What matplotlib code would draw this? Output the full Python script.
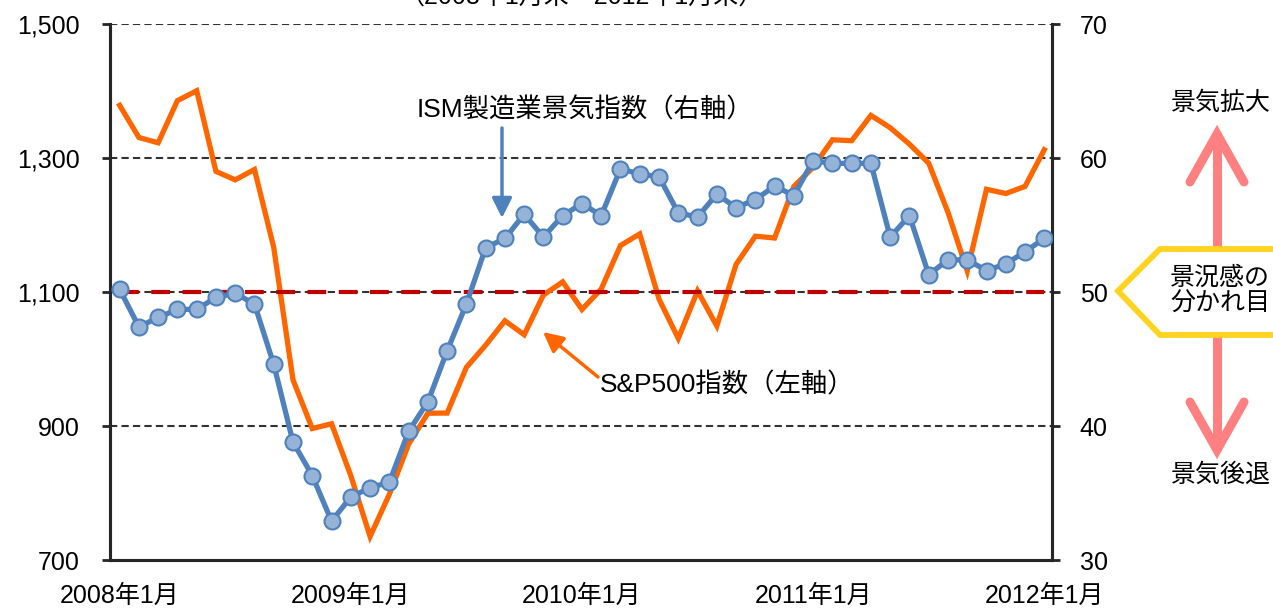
import numpy as np
import matplotlib
matplotlib.use('Agg')
import matplotlib.pyplot as plt
from matplotlib.patches import Polygon

plt.rcParams['font.family'] = ['Liberation Sans', 'Noto Sans CJK JP']
plt.rcParams['font.size'] = 18

# 2008年1月末～2012年1月末 の月末値
sp500 = [1378.6, 1330.6, 1322.7, 1385.6, 1400.4, 1280.0, 1267.4, 1282.8, 1166.4, 968.8, 896.2, 903.3,
         825.9, 735.1, 797.9, 872.8, 919.1, 919.3, 987.5, 1020.6, 1057.1, 1036.2, 1095.6, 1115.1,
         1073.9, 1104.5, 1169.4, 1186.7, 1089.4, 1030.7, 1101.6, 1049.3, 1141.2, 1183.3, 1180.6, 1257.6,
         1286.1, 1327.2, 1325.8, 1363.6, 1345.2, 1320.6, 1292.3, 1218.9, 1131.4, 1253.3, 1247.0, 1257.6,
         1312.4]
ism = [50.2, 47.4, 48.1, 48.7, 48.7, 49.6, 49.9, 49.1, 44.6, 38.8, 36.3, 32.9,
       34.7, 35.4, 35.8, 39.6, 41.8, 45.6, 49.1, 53.3, 54.0, 55.8, 54.1, 55.7,
       56.6, 55.7, 59.2, 58.8, 58.6, 55.9, 55.6, 57.3, 56.3, 56.9, 57.9, 57.2,
       59.8, 59.6, 59.6, 59.6, 54.1, 55.7, 51.3, 52.4, 52.4, 51.6, 52.1, 53.0,
       54.0]
tick_labels = ['2008年1月', '2009年1月', '2010年1月', '2011年1月', '2012年1月']
boundary = 50  # 景況感の分かれ目

x = np.arange(len(sp500))
W, H = 1273, 610
fig = plt.figure(figsize=(W / 100, H / 100), dpi=100)
ax = fig.add_axes([110 / W, 1 - 560 / H, (1052 - 110) / W, (560 - 24) / H])
ax2 = ax.twinx()

# グリッド
ax.set_ylim(700, 1500)
ax.set_yticks([700, 900, 1100, 1300, 1500])
ax.set_yticklabels(['700', '900', '1,100', '1,300', '1,500'])
for v in [900, 1100, 1300, 1500]:
    ax.axhline(v, color='#333333', lw=1.5, ls=(0, (3.5, 2)), zorder=0)

ax.plot(x, sp500, color='#FF6600', lw=3.8, zorder=2, solid_joinstyle='miter')

ax2.set_ylim(30, 70)
ax2.set_yticks([30, 40, 50, 60, 70])
ax2.hlines(boundary, x[0], x[-1], color='#C00000', lw=3, linestyles=(0, (4.5, 3)), zorder=1)
ax2.plot(x, ism, color='#4F81BD', lw=3.8, marker='o', markersize=11.5,
         markerfacecolor='#95B3D7', markeredgecolor='#4F81BD', markeredgewidth=1.5, zorder=3)

ax.set_xlim(-0.5, 48.4)
ax.set_xticks(x[::12])
ax.set_xticklabels(tick_labels)
ax.tick_params(axis='x', length=0, pad=17)
ax.tick_params(axis='y', length=6, width=2, color='#262626', pad=16)
ax2.tick_params(axis='y', length=6, width=2, color='#262626', pad=14)

for a in (ax, ax2):
    for s in a.spines.values():
        s.set_color('#262626')
        s.set_linewidth(2.2)
    a.spines['top'].set_visible(False)

# 注記用のオーバーレイ
ov = fig.add_axes([0, 0, 1, 1])
ov.set_xlim(0, W)
ov.set_ylim(H, 0)
ov.axis('off')
ov.patch.set_alpha(0)

fig.text(582 / W, 1 - 4 / H, '（2008年1月末～2012年1月末）', ha='center', va='baseline')

ov.text(585, 110, 'ISM製造業景気指数（右軸）', ha='center', va='center', fontsize=19)
ov.annotate('', xy=(502, 218), xytext=(502, 128),
            arrowprops=dict(arrowstyle='-|>,head_length=0.6,head_width=0.3', color='#4F81BD',
                            lw=2.5, mutation_scale=20, shrinkA=0, shrinkB=0))
ov.text(600, 385, 'S&P500指数（左軸）', ha='left', va='center', fontsize=19)
ov.annotate('', xy=(543, 332), xytext=(598, 377),
            arrowprops=dict(arrowstyle='-|>,head_length=0.6,head_width=0.3', color='#FF6600',
                            lw=2.5, mutation_scale=20, shrinkA=0, shrinkB=0))

pink = '#FF8080'
ov.plot([1217, 1217], [138, 250], color=pink, lw=6.5, solid_capstyle='butt')
ov.plot([1190, 1217, 1244], [182, 134, 182], color=pink, lw=6.5,
        solid_capstyle='round', solid_joinstyle='miter')
ov.plot([1217, 1217], [336, 446], color=pink, lw=6.5, solid_capstyle='butt')
ov.plot([1190, 1217, 1244], [402, 450, 402], color=pink, lw=6.5,
        solid_capstyle='round', solid_joinstyle='miter')

ov.add_patch(Polygon([(1300, 249), (1160, 249), (1118, 291), (1160, 335), (1300, 335)],
                     closed=True, facecolor='white', edgecolor='#FFD320', lw=4.2, zorder=5))
ov.text(1170, 291, '景況感の\n分かれ目', ha='left', va='center', linespacing=1.1, zorder=6)
ov.text(1221, 103, '景気拡大', ha='center', va='center')
ov.text(1221, 475, '景気後退', ha='center', va='center')

fig.savefig('out.png', dpi=100)
